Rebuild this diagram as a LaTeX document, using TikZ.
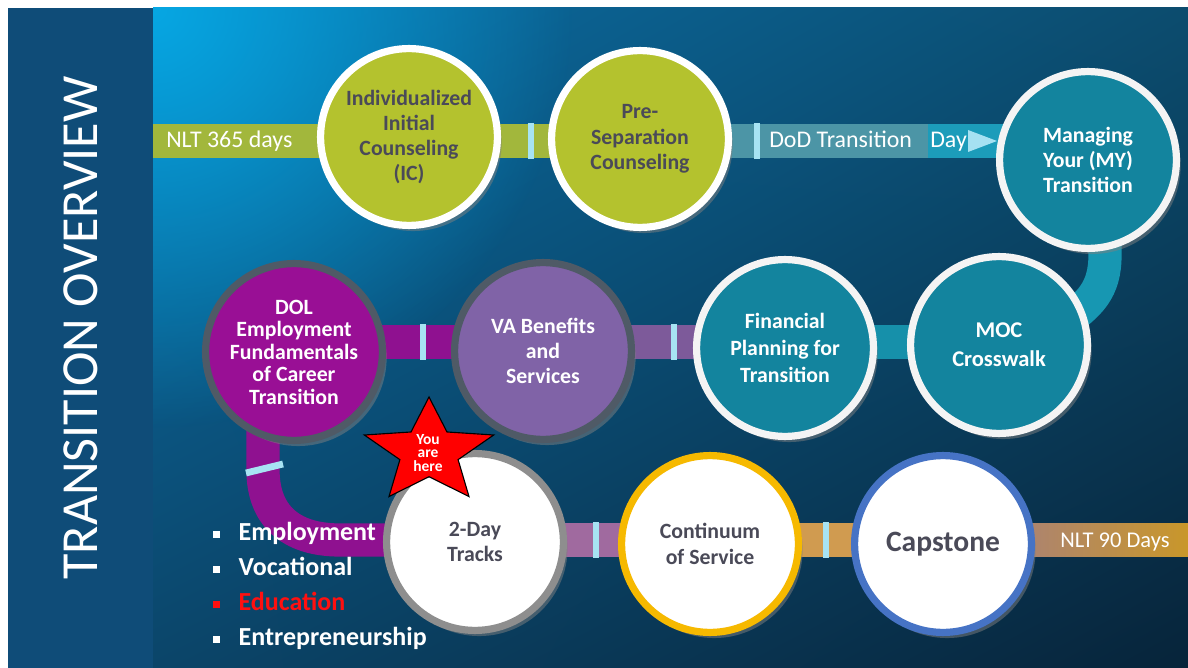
\documentclass[tikz,border=0pt]{standalone}
\usepackage{fontspec}
\setmainfont{Carlito}
\usetikzlibrary{calc,shadows,fadings,shadings}

\definecolor{panelblue}{HTML}{0F4C78}
\definecolor{bgtl}{HTML}{0A6FA8}
\definecolor{bgtr}{HTML}{0C4C6E}
\definecolor{bgbl}{HTML}{0B4569}
\definecolor{bgbr}{HTML}{07243A}
\definecolor{glowblue}{HTML}{06A7E3}
\definecolor{limefill}{HTML}{B4C22E}
\definecolor{limebar}{HTML}{A2B73C}
\definecolor{inkgray}{HTML}{4A4A58}
\definecolor{tealfill}{HTML}{13849E}
\definecolor{ringwhite}{HTML}{F4F4F4}
\definecolor{dodbar}{HTML}{4C95A6}
\definecolor{daybar}{HTML}{1C9CBA}
\definecolor{arrowblue}{HTML}{A6E1F2}
\definecolor{dolfill}{HTML}{990F95}
\definecolor{dolring}{HTML}{4F5A66}
\definecolor{vafill}{HTML}{8063A7}
\definecolor{plumbar}{HTML}{8F1190}
\definecolor{lavbar}{HTML}{7D5A9A}
\definecolor{tealbar}{HTML}{1690AA}
\definecolor{curveteal}{HTML}{1797B2}
\definecolor{mauvebar}{HTML}{A06A9F}
\definecolor{tanbar}{HTML}{D09B50}
\definecolor{lastleft}{HTML}{9E7A93}
\definecolor{lastright}{HTML}{C9972A}
\definecolor{contring}{HTML}{F6B900}
\definecolor{capring}{HTML}{4673C5}
\definecolor{twogray}{HTML}{8E8E8E}
\definecolor{tickblue}{HTML}{A7E3F3}
\definecolor{starred}{HTML}{FF0000}
\definecolor{edured}{HTML}{FF1010}

\tikzfading[name=glowfade, inner color=transparent!0, outer color=transparent!100]
\pgfdeclarelayer{backdrop}
\pgfdeclarelayer{bands}
\pgfsetlayers{backdrop,bands,main}

\tikzset{
    stage/.style={circle, line width=0.18cm, minimum size=4.42cm, inner sep=0pt,
        align=center, font=\bfseries\fontsize{15.5}{18}\selectfont,
        drop shadow={opacity=0.5, shadow xshift=3pt, shadow yshift=-4pt}},
    limestage/.style={stage, draw=white, fill=limefill, text=inkgray},
    tealstage/.style={stage, draw=ringwhite, fill=tealfill, text=white},
    whitestage/.style={stage, fill=white, text=inkgray},
    band/.style={line width=0.83cm},
    tickmark/.style={draw=tickblue, line width=0.17cm},
    barlabel/.style={inner sep=0pt, text=white, font=\fontsize{17}{20}\selectfont},
    trackitem/.style={inner sep=0pt, font=\bfseries\fontsize{18.5}{22}\selectfont},
}

\begin{document}
\begin{tikzpicture}[x=0.025cm, y=-0.025cm]
    \useasboundingbox (0,0) rectangle (1188,668);
    %% Backdrop
    \begin{pgfonlayer}{backdrop}
        \fill[panelblue] (8,8) rectangle (153,668);
        \begin{scope}
            \clip (153,8) rectangle (1188,668);
            \shade[shading=bilinear interpolation, upper left=bgtl, upper right=bgtr,
                lower left=bgbl, lower right=bgbr] (153,8) rectangle (1188,668);
            \fill[glowblue, path fading=glowfade] (153,8) circle (420);
        \end{scope}
    \end{pgfonlayer}
    \node[rotate=90, inner sep=0pt, text=white, font=\fontsize{37}{42}\selectfont]
        (title) at (81,328) {TRANSITION OVERVIEW};

    %% Rows
    \coordinate (toprow) at (0,141);
    \coordinate (midrow) at (0,342);
    \coordinate (botrow) at (0,540);

    %% Stages
    \node[limestage] (IC) at (409,137) {Individualized\\Initial\\Counseling\\(IC)};
    \node[limestage] (PS) at (640,139) {Pre-\\Separation\\Counseling};
    \node[tealstage] (Man) at (1088,160) {Managing\\Your (MY)\\Transition};
    \node[stage, draw=dolring, fill=dolfill, text=white, font=\bfseries\fontsize{15.5}{16}\selectfont]
        (DOL) at (294,352) {DOL\\Employment\\Fundamentals\\of Career\\Transition};
    \node[stage, draw=dolring, fill=vafill, text=white] (VA) at (543,351) {VA Benefits\\and\\Services};
    \node[tealstage, font=\bfseries\fontsize{15.5}{19}\selectfont]
        (Fin) at (785,348) {Financial\\Planning for\\Transition};
    \node[tealstage, font=\bfseries\fontsize{16}{20.5}\selectfont] (MOC) at (999,345) {MOC\\Crosswalk};
    \node[whitestage, draw=twogray] (Two) at (475,542) {2-Day\\Tracks};
    \node[whitestage, draw=contring] (Cont) at (710,544) {Continuum\\of Service};
    \node[whitestage, draw=capring, font=\bfseries\fontsize{21}{24}\selectfont] (Cap) at (943,544) {Capstone};

    %% Bands
    \begin{pgfonlayer}{bands}
        \coordinate (tstart) at (153,141);
        \coordinate (dayL) at (928,141);
        \draw[band, limebar] (tstart) -- (IC |- toprow) -- (PS |- toprow);
        \draw[band, dodbar] (PS |- toprow) -- (dayL);
        \draw[band, daybar] (dayL) -- (Man |- toprow);
        \fill[arrowblue] (968,130) -- (968,152) -- (997,141) -- cycle;
        \draw[band, curveteal] (Man.center) ++(17,0) -- (1105,255)
            .. controls (1105,290) and (1090,305) .. (1060,325) -- (MOC.center);
        \draw[band, plumbar] (DOL |- midrow) -- (VA |- midrow);
        \draw[band, lavbar] (VA |- midrow) -- (Fin |- midrow);
        \draw[band, tealbar] (Fin |- midrow) -- (MOC |- midrow);
        \draw[band, plumbar] (DOL.center) ++(-31,0) -- (263,470)
            .. controls (263,515) and (290,540) .. (340,540) -- (Two |- botrow);
        \draw[band, mauvebar] (Two |- botrow) -- (Cont |- botrow);
        \draw[band, tanbar] (Cont |- botrow) -- (Cap |- botrow);
        \shade[left color=lastleft, right color=lastright]
            ($(Cap |- botrow)+(0,-16.5)$) rectangle (1188,556.5);
        %% Ticks
        \draw[tickmark] (531,123) -- (531,159);
        \draw[tickmark] (757,123) -- (757,159);
        \draw[tickmark] (423,324) -- (423,360);
        \draw[tickmark] (674,324) -- (674,360);
        \draw[tickmark] (246,473) -- (283,464);
        \draw[tickmark] (596,522) -- (596,558);
        \draw[tickmark] (826,522) -- (826,558);
    \end{pgfonlayer}

    %% Bar labels
    \node[barlabel, anchor=base west] (nlt365) at (166,148) {NLT 365 days};
    \node[barlabel, anchor=base west] (dod) at (769,148) {DoD Transition};
    \node[barlabel, anchor=base west] (day) at (930,148) {Day};
    \node[barlabel, anchor=base west, font=\fontsize{16}{19}\selectfont]
        (nlt90) at (1060,547) {NLT 90 Days};

    %% Star
    \coordinate (hc) at (429,452);
    \draw[fill=starred, draw=black, line width=0.8pt]
        ($(hc)+(0,-55)$)
        \foreach \k [evaluate=\k as \rr using {0.725+0.275*cos(180*\k)}] in {1,...,9}
            { -- ($(hc)+({68*\rr*cos(90+36*\k)},{-55*\rr*sin(90+36*\k)})$) } -- cycle;
    \node[inner sep=0pt, align=center, text=white, font=\bfseries\fontsize{11}{9.5}\selectfont]
        (here) at (428,453) {You\\are\\here};

    %% Tracks
    \foreach \txt/\yy/\col [count=\i] in {Employment/540/white, Vocational/575/white,
            Education/610/edured, Entrepreneurship/645/white}
        \node[trackitem, text=\col, anchor=base west] (track\i) at (213,\yy)
            {\rule[1.7pt]{5pt}{5pt}\hspace{13pt}\txt};
\end{tikzpicture}
\end{document}
